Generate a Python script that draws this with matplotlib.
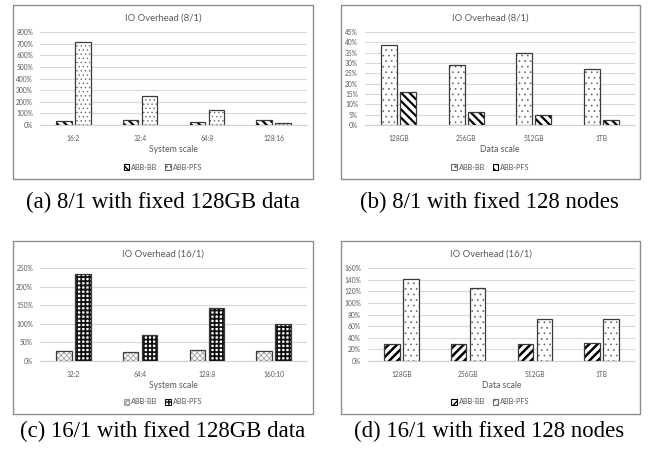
import matplotlib
matplotlib.use("Agg")
import matplotlib.pyplot as plt
from matplotlib.patches import Rectangle, Patch
from matplotlib.ticker import MultipleLocator, FuncFormatter
import numpy as np

# panel (a): 8/1, fixed 128GB data
scale_a = ["16:2", "32:4", "64:8", "128:16"]
bb_a = [37, 42, 26, 40]
pfs_a = [714, 251, 129, 20]

# panel (b): 8/1, fixed 128 nodes
data_b = ["128GB", "256GB", "512GB", "1TB"]
bb_b = [38.9, 28.9, 34.6, 27.3]
pfs_b = [16.1, 6.4, 4.7, 2.4]

# panel (c): 16/1, fixed 128GB data
scale_c = ["32:2", "64:4", "128:8", "160:10"]
bb_c = [26.9, 24.2, 30.5, 27.8]
pfs_c = [233, 70.8, 143, 98.6]

# panel (d): 16/1, fixed 128 nodes
data_d = ["128GB", "256GB", "512GB", "1TB"]
bb_d = [28.8, 29.9, 29.9, 30.5]
pfs_d = [141, 124.9, 71.4, 71.4]

captions = ["(a) 8/1 with fixed 128GB data", "(b) 8/1 with fixed 128 nodes",
            "(c) 16/1 with fixed 128GB data", "(d) 16/1 with fixed 128 nodes"]

W, H = 655, 454
GREY = "#595959"
FONT = "Lato"

fig = plt.figure(figsize=(W / 100, H / 100), dpi=100)


def fx(x):
    return x / W


def fy(y):
    return 1 - y / H


def bar_style(kind):
    # hatch, hatch colour, hatch linewidth
    return {
        "stripe": ("\\\\\\\\", "#000000", 1.6),
        "stripe_f": ("////", "#000000", 1.8),
        "dots": ("...", "#6a6a6a", 0.5),
        "finedots": ("....", "#6a6a6a", 0.5),
        "grid": ("xxxxxx", "#a0a0a0", 0.6),
        "checker": ("++++", "#111111", 1.3),
    }[kind]


def panel(frame, plot, title, cats, s1, s2, kinds, ymax, step, xlabel):
    x0, y0, x1, y1 = frame
    fig.patches.append(Rectangle((fx(x0), fy(y1)), fx(x1) - fx(x0), fy(y0) - fy(y1),
                                 transform=fig.transFigure, fill=False,
                                 edgecolor="#8c8c8c", lw=1.0))
    l, t, r, b = plot
    ax = fig.add_axes([fx(l), fy(b), fx(r) - fx(l), fy(t) - fy(b)])
    xs = np.arange(len(cats))
    w = 0.235
    off = 0.1425
    handles = []
    for vals, kind, sign, name in [(s1, kinds[0], -1, "ABB-BB"), (s2, kinds[1], 1, "ABB-PFS")]:
        hatch, hc, hlw = bar_style(kind)
        bars = ax.bar(xs + sign * off, vals, width=w, color="white", edgecolor=hc,
                      hatch=hatch, lw=0.0, zorder=3)
        for p in bars:
            if hasattr(p, "set_hatch_linewidth"):
                p.set_hatch_linewidth(hlw)
        # outline
        ax.bar(xs + sign * off, vals, width=w, fill=False, edgecolor="#3a3a3a",
               lw=0.9, zorder=4)
        hp = Patch(facecolor="white", edgecolor=hc, hatch=hatch, lw=0.8)
        if hasattr(hp, "set_hatch_linewidth"):
            hp.set_hatch_linewidth(hlw)
        handles.append((hp, name))
    ax.set_xlim(-0.5, len(cats) - 0.5)
    ax.set_ylim(0, ymax)
    ax.yaxis.set_major_locator(MultipleLocator(step))
    ax.yaxis.set_major_formatter(FuncFormatter(lambda v, _: f"{v:.0f}%"))
    ax.set_xticks(xs)
    ax.set_xticklabels(cats)
    ax.tick_params(length=0, labelsize=4.8, labelcolor=GREY, pad=5)
    ax.tick_params(axis="x", pad=7)
    for lab in ax.get_xticklabels() + ax.get_yticklabels():
        lab.set_fontfamily(FONT)
    ax.grid(axis="y", color="#d9d9d9", lw=0.8, zorder=0)
    for s in ["top", "right", "left"]:
        ax.spines[s].set_visible(False)
    ax.spines["bottom"].set_color("#d0d0d0")
    ax.spines["bottom"].set_linewidth(0.8)
    ax.set_xlabel(xlabel, fontsize=6.2, color=GREY, family=FONT, labelpad=2.5)
    fig.text(fx((x0 + x1) / 2), fy(y0 + 13), title, ha="center", va="center",
             fontsize=6.8, color=GREY, family=FONT)
    hs = [h for h, _ in handles]
    ns = [n for _, n in handles]
    fig.legend(hs, ns, loc="center", bbox_to_anchor=(fx((x0 + x1) / 2), fy(y1 - 12)),
               ncol=2, frameon=False, handlelength=0.75, handleheight=0.75,
               handletextpad=0.3, columnspacing=1.0, labelcolor=GREY,
               prop={"family": FONT, "size": 5.3})
    return ax


panel((13, 5, 313, 179), (40, 32, 307, 125), "IO Overhead (8/1)", scale_a, bb_a, pfs_a,
      ("stripe", "finedots"), 800, 100, "System scale")
panel((341, 5, 640, 179), (365, 32, 635, 125), "IO Overhead (8/1)", data_b, bb_b, pfs_b,
      ("dots", "stripe"), 45, 5, "Data scale")
panel((13, 241, 313, 414), (40, 268, 307, 361), "IO Overhead (16/1)", scale_c, bb_c, pfs_c,
      ("grid", "checker"), 250, 50, "System scale")
panel((341, 241, 640, 414), (368, 268, 635, 361), "IO Overhead (16/1)", data_d, bb_d, pfs_d,
      ("stripe_f", "dots"), 160, 20, "Data scale")

cap_pos = [(163, 202), (489, 202), (163, 431), (489, 431)]
for (cx, cy), txt in zip(cap_pos, captions):
    fig.text(fx(cx), fy(cy), txt, ha="center", va="center", fontsize=16.4,
             family="Liberation Serif", color="black")

fig.savefig("out.png", dpi=100)
